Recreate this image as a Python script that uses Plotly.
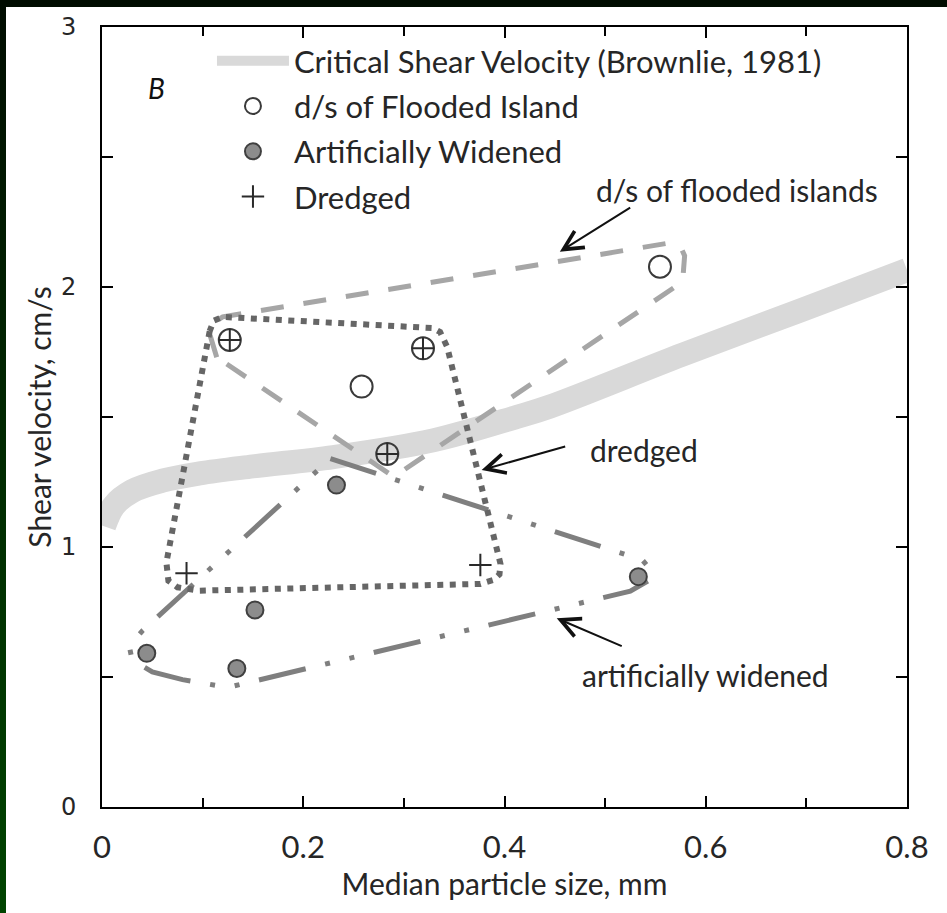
import plotly.graph_objects as go

# ---------------- data ----------------
crit_x = [0.002, 0.012, 0.03, 0.06, 0.097, 0.15, 0.23, 0.329, 0.412, 0.445, 0.577, 0.694, 0.8]
crit_y = [1.08, 1.16, 1.215, 1.255, 1.283, 1.31, 1.346, 1.41, 1.50, 1.54, 1.74, 1.91, 2.065]

ds_x = [0.5545, 0.258, 0.127, 0.319, 0.2835]
ds_y = [2.078, 1.617, 1.796, 1.764, 1.358]

aw_x = [0.0445, 0.134, 0.152, 0.233, 0.533]
aw_y = [0.591, 0.533, 0.758, 1.238, 0.886]

dr_x = [0.084, 0.376, 0.127, 0.319, 0.2835]
dr_y = [0.899, 0.931, 1.796, 1.764, 1.358]

# hand-drawn group outlines
ds_out_x = [0.114, 0.107, 0.110, 0.120, 0.565, 0.575, 0.579, 0.577, 0.290, 0.114]
ds_out_y = [1.73, 1.82, 1.86, 1.885, 2.17, 2.155, 2.12, 2.02, 1.27, 1.73]

dr_out_x = [0.107, 0.064, 0.066, 0.075, 0.097, 0.376, 0.389, 0.395, 0.396, 0.343, 0.336, 0.329, 0.120, 0.111, 0.107]
dr_out_y = [1.83, 0.94, 0.87, 0.845, 0.832, 0.858, 0.873, 0.895, 0.935, 1.77, 1.827, 1.842, 1.885, 1.87, 1.83]

aw_out_x = [0.227, 0.537, 0.546, 0.545, 0.525, 0.125, 0.08, 0.05, 0.03, 0.027, 0.04, 0.227]
aw_out_y = [1.34, 0.95, 0.91, 0.875, 0.83, 0.46, 0.49, 0.52, 0.565, 0.62, 0.677, 1.34]

# labels with arrows: (text, text x, text y, arrow tip x, tip y, tail x, tail y)
callouts = [
    ("d/s of flooded islands", 0.631, 2.373, 0.455, 2.136, 0.5264, 2.309),
    ("dredged", 0.539, 1.373, 0.3773, 1.296, 0.4618, 1.388),
    ("artificially widened", 0.600, 0.508, 0.4519, 0.7258, 0.518, 0.6165),
]

x_ticks = [0, 0.2, 0.4, 0.6, 0.8]
x_tick_text = ["0", "0.2", "0.4", "0.6", "0.8"]
y_ticks = [0, 1, 2, 3]
y_tick_text = ["0", "1", "2", "3"]

TXT = "#262626"
FONT = "Lato, 'Noto Sans', sans-serif"

fig = go.Figure()

fig.add_trace(go.Scatter(
    x=crit_x, y=crit_y, mode="lines", name="Critical Shear Velocity (Brownlie, 1981)",
    line=dict(color="#d9d9d9", width=24, shape="spline"), legendgroup="a", hoverinfo="skip"))

fig.add_trace(go.Scatter(
    x=ds_out_x, y=ds_out_y, mode="lines", showlegend=False,
    line=dict(color="#a6a6a6", width=5, dash="23px,20px")))
fig.add_trace(go.Scatter(
    x=aw_out_x, y=aw_out_y, mode="lines", showlegend=False,
    line=dict(color="#7f7f7f", width=5, dash="48px,20px,5px,20px,5px,20px")))
fig.add_trace(go.Scatter(
    x=dr_out_x, y=dr_out_y, mode="lines", showlegend=False,
    line=dict(color="#666666", width=6, dash="6px,6.5px")))

fig.add_trace(go.Scatter(
    x=ds_x, y=ds_y, mode="markers", name="d/s of Flooded Island", legendgroup="b",
    marker=dict(symbol="circle-open", size=22, color="#3a3a3a", line=dict(width=2, color="#3a3a3a"))))
fig.add_trace(go.Scatter(
    x=aw_x, y=aw_y, mode="markers", name="Artificially Widened", legendgroup="c",
    marker=dict(symbol="circle", size=17, color="#8c8c8c", line=dict(width=2, color="#404040"))))
fig.add_trace(go.Scatter(
    x=dr_x, y=dr_y, mode="markers", name="Dredged", legendgroup="d",
    marker=dict(symbol="cross-thin-open", size=16, color="#2a2a2a", line=dict(width=2, color="#2a2a2a"))))

annotations = []
for text, tx, ty, hx, hy, sx, sy in callouts:
    annotations.append(dict(x=hx, y=hy, ax=sx, ay=sy, xref="x", yref="y", axref="x", ayref="y",
                            text="", showarrow=True, arrowhead=5, arrowsize=1.9, arrowwidth=2,
                            arrowcolor="#111111", standoff=0))
    annotations.append(dict(x=tx, y=ty, xref="x", yref="y", text=text, showarrow=False,
                            font=dict(family=FONT, size=30, color=TXT), xanchor="center", yanchor="middle"))
annotations.append(dict(x=0.0542, y=2.764, xref="x", yref="y", text="<i>B</i>", showarrow=False,
                        font=dict(family=FONT, size=28, color="#111111"), xanchor="center", yanchor="middle"))

# figure sits 6px from the left and 7px from the top of the page; the page
# background shows there as the dark green frame of the original picture
fig.update_layout(
    width=941, height=906, autosize=False,
    margin=dict(l=96, r=40, t=20, b=106),
    paper_bgcolor="white", plot_bgcolor="white",
    font=dict(family=FONT, color=TXT),
    showlegend=True,
    legend=dict(x=0.1366, y=0.991, xanchor="left", yanchor="top", bgcolor="rgba(0,0,0,0)",
                font=dict(family=FONT, size=31, color=TXT), itemwidth=72,
                traceorder="grouped", tracegroupgap=2),
    annotations=annotations,
    xaxis=dict(range=[0, 0.8], tickvals=x_ticks, ticktext=x_tick_text, automargin=False,
               ticks="inside", ticklen=11, tickwidth=2, tickcolor="black",
               minor=dict(dtick=0.1, ticks="inside", ticklen=9, tickwidth=2, tickcolor="black"),
               showline=True, linewidth=2, linecolor="black", mirror="ticks",
               showgrid=False, zeroline=False, ticklabelstandoff=12,
               tickfont=dict(family=FONT, size=31, color=TXT),
               title=dict(text="Median particle size, mm", font=dict(family=FONT, size=30, color=TXT), standoff=0)),
    yaxis=dict(range=[0, 3], tickvals=y_ticks, ticktext=y_tick_text, automargin=False,
               ticks="inside", ticklen=11, tickwidth=2, tickcolor="black",
               minor=dict(dtick=0.5, ticks="inside", ticklen=11, tickwidth=2, tickcolor="black"),
               showline=True, linewidth=2, linecolor="black", mirror="ticks",
               showgrid=False, zeroline=False, ticklabelstandoff=19,
               tickfont=dict(family="'DejaVu Sans', sans-serif", size=24, color=TXT),
               title=dict(text="Shear velocity, cm/s", font=dict(family=FONT, size=30, color=TXT), standoff=0)),
)

page_css = (
    "document.body.style.margin='0px';"
    "document.body.style.background='linear-gradient(to bottom, #000c00 0%, #002a00 50%, #004400 100%)';"
    "var gd=document.getElementsByClassName('plotly-graph-div')[0];"
    "gd.style.marginLeft='6px';gd.style.paddingTop='7px';"
)
fig.write_html("out.html", config={"displayModeBar": False}, post_script=page_css)
